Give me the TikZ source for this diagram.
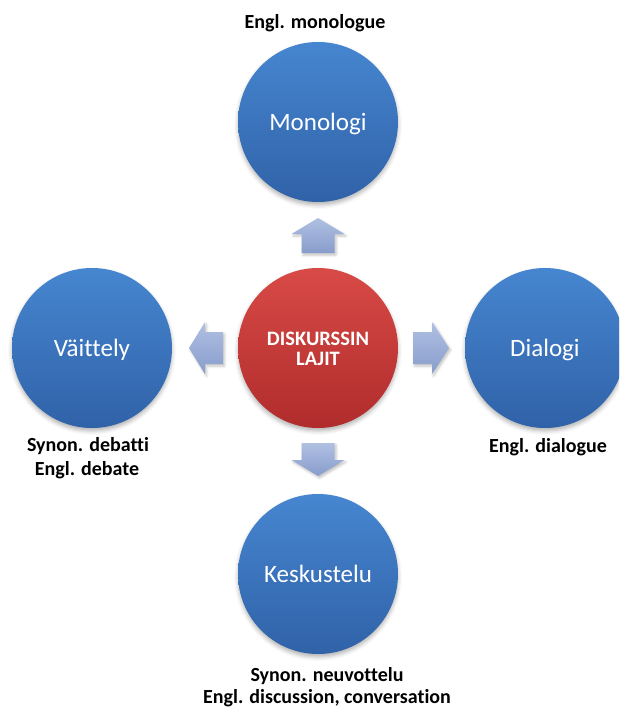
\documentclass[tikz,border=0pt]{standalone}
\usepackage{fontspec}
\setmainfont[Ligatures=NoCommon]{Carlito}
\usetikzlibrary{shadows.blur}

\definecolor{bluetop}{RGB}{70,134,208}
\definecolor{bluebot}{RGB}{48,98,168}
\definecolor{redtop}{RGB}{216,74,70}
\definecolor{redbot}{RGB}{176,44,44}
\definecolor{arrtop}{RGB}{176,192,226}
\definecolor{arrbot}{RGB}{136,157,204}

\tikzset{
  topic/.style={circle, minimum size=160pt, inner sep=0pt,
    top color=bluetop, bottom color=bluebot, text=white,
    blur shadow={shadow xshift=0pt, shadow yshift=-3pt,
      shadow blur radius=4pt, shadow opacity=30}},
  hub/.style={topic, top color=redtop, bottom color=redbot},
  blockarrow/.style={top color=arrtop, bottom color=arrbot, draw=none,
    blur shadow={shadow xshift=1.5pt, shadow yshift=-2pt,
      shadow blur radius=2.5pt, shadow opacity=25}},
  circletext/.style={anchor=base, inner sep=0pt, text=white,
    font=\fontsize{25}{28}\selectfont},
  hubtext/.style={anchor=base, inner sep=0pt, text=white,
    font=\bfseries\fontsize{20.5}{20.5}\selectfont},
  note/.style={anchor=base, inner sep=0pt, text=black,
    font=\bfseries\fontsize{20}{23}\selectfont}
}

\begin{document}
\begin{tikzpicture}[x=1pt, y=-1pt]
  \useasboundingbox (0,0) rectangle (619,707);
  \clip (0,0) rectangle (619,707);

  % centres of the five circles
  \coordinate (cT) at (318,122);
  \coordinate (cL) at (92,348);
  \coordinate (cC) at (318,348);
  \coordinate (cR) at (545,348);
  \coordinate (cB) at (318,574);

  \node[topic] (mono) at (cT) {};
  \node[topic] (vait) at (cL) {};
  \node[hub]   (disk) at (cC) {};
  \node[topic] (dial) at (cR) {};
  \node[topic] (kesk) at (cB) {};

  % circle texts
  \node[circletext] (monoT) at ([yshift=-8.5pt]mono.center) {Monologi};
  \node[circletext] (vaitT) at ([yshift=-8.5pt]vait.center) {Väittely};
  \node[circletext] (dialT) at ([yshift=-8.5pt]dial.center) {Dialogi};
  \node[circletext] (keskT) at ([yshift=-8.5pt]kesk.center) {Keskustelu};
  \node[hubtext] (diskA) at (318,345) {DISKURSSIN};
  \node[hubtext] (diskB) at (318,365) {LAJIT};

  % block arrows pointing out of the hub
  \path[blockarrow] (301.5,253) -- (301.5,234) -- (291.5,234) -- (318,218)
    -- (344.5,234) -- (334.5,234) -- (334.5,253) -- cycle;
  \path[blockarrow] (301.5,443) -- (301.5,460) -- (291.5,460) -- (318,476)
    -- (344.5,460) -- (334.5,460) -- (334.5,443) -- cycle;
  \path[blockarrow] (223,332) -- (205,332) -- (205,322) -- (189,348)
    -- (205,374) -- (205,364) -- (223,364) -- cycle;
  \path[blockarrow] (413,332) -- (432,332) -- (432,322) -- (449,348)
    -- (432,374) -- (432,364) -- (413,364) -- cycle;

  % notes
  \node[note] (nMono)  at (315,28)  {Engl. monologue};
  \node[note] (nVait1) at (88,451)  {Synon. debatti};
  \node[note] (nVait2) at (87,475)  {Engl. debate};
  \node[note] (nDial)  at (548,452) {Engl. dialogue};
  \node[note] (nKesk1) at (327,681) {Synon. neuvottelu};
  \node[note] (nKesk2) at (327,703) {Engl. discussion, conversation};
\end{tikzpicture}
\end{document}
